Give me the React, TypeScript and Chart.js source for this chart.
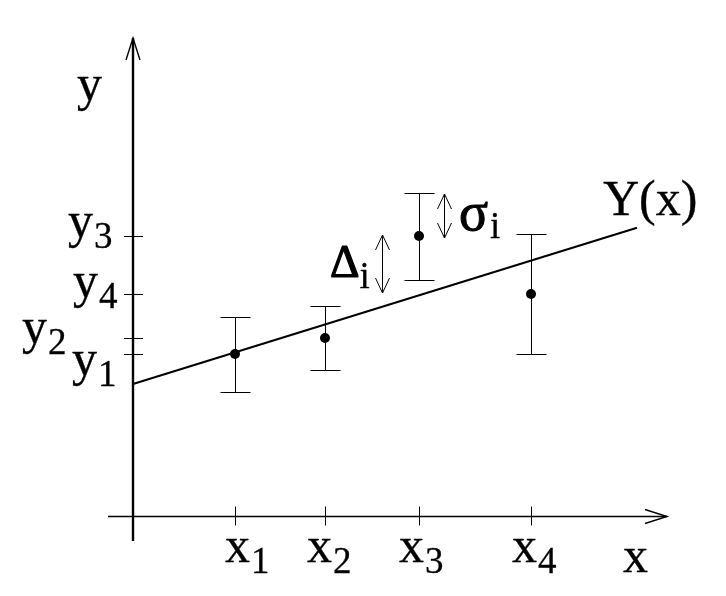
import React, { useEffect, useRef } from "react";
import { Chart, registerables } from "chart.js";

Chart.register(...registerables);

// ---- data (diagram units: origin at the axes crossing) ----
const subscripts = ["1", "2", "3", "4"];
const xValues = [1.02, 1.92, 2.86, 3.98];
const yValues = [1.62, 1.78, 2.8, 2.22];
const sigmaValues = [0.375, 0.325, 0.435, 0.595];
const fitIntercept = 1.32;
const fitSlope = 0.31;
const fitRange = [0, 5.04];
const xAxisRange = [-0.25, 5.34];
const yAxisRange = [-0.25, 4.78];
const deltaArrow = [2.49, 2.81, 2.23]; // x, from y, to y
const sigmaArrow = [3.11, 3.22, 2.78]; // x, from y, to y
const viewX = [-1.33, 5.93];
const viewY = [-0.8, 5.16];

// ---- layout of the text labels (pixel offsets) ----
const yLabelOffsets = [
  [-61, 21],
  [-111, 5],
  [-65, 1],
  [-60, 3],
];
const xLabelOffsets = [-10, -18, -20, -19];

const FONT = '"Liberation Serif", "Times New Roman", serif';
const MAIN = 50;
const SUB = 37;

function put(ctx: CanvasRenderingContext2D, t: string, x: number, y: number, stroke: number) {
  ctx.fillText(t, x, y);
  if (stroke > 0) {
    ctx.lineWidth = stroke;
    ctx.strokeText(t, x, y);
  }
}

function drawSub(ctx: CanvasRenderingContext2D, main: string, sub: string, x: number, base: number, mainSize = MAIN, subSize = SUB, drop = 11, gap = 1, stroke = 0.35) {
  ctx.font = `${mainSize}px ${FONT}`;
  put(ctx, main, x, base, stroke);
  const w = ctx.measureText(main).width;
  if (sub) {
    ctx.font = `${subSize}px ${FONT}`;
    put(ctx, sub, x + w + gap, base + drop, 0.3);
  }
}

function openArrowHead(ctx: CanvasRenderingContext2D, tx: number, ty: number, dx: number, dy: number, len: number, half: number) {
  const bx = tx - dx * len;
  const by = ty - dy * len;
  const nx = -dy;
  const ny = dx;
  ctx.beginPath();
  ctx.moveTo(bx + nx * half, by + ny * half);
  ctx.lineTo(tx, ty);
  ctx.lineTo(bx - nx * half, by - ny * half);
  ctx.stroke();
}

const diagramPlugin = {
  id: "diagram",
  beforeDatasetsDraw(chart: any) {
    const { ctx, scales } = chart;
    const px = (v: number) => scales.x.getPixelForValue(v);
    const py = (v: number) => scales.y.getPixelForValue(v);
    const cx = (v: number) => Math.round(px(v)) + 0.5;
    const cy = (v: number) => Math.round(py(v)) + 0.5;
    ctx.save();
    ctx.strokeStyle = "#000";
    ctx.lineCap = "butt";

    // y axis
    const ax = Math.round(px(0));
    ctx.lineWidth = 2.4;
    ctx.beginPath();
    ctx.moveTo(ax, py(yAxisRange[0]));
    ctx.lineTo(ax, py(yAxisRange[1]));
    ctx.stroke();
    ctx.lineWidth = 1.4;
    openArrowHead(ctx, ax, py(yAxisRange[1]), 0, -1, 22, 7);

    // x axis
    const ay = Math.round(py(0)) + 0.5;
    ctx.lineWidth = 1.6;
    ctx.beginPath();
    ctx.moveTo(px(xAxisRange[0]), ay);
    ctx.lineTo(px(xAxisRange[1]), ay);
    ctx.stroke();
    ctx.lineWidth = 1.4;
    openArrowHead(ctx, px(xAxisRange[1]), ay, 1, 0, 22, 7);

    // ticks
    ctx.lineWidth = 1;
    xValues.forEach((v) => {
      ctx.beginPath();
      ctx.moveTo(cx(v), ay - 10);
      ctx.lineTo(cx(v), ay + 9);
      ctx.stroke();
    });
    yValues.forEach((v) => {
      ctx.beginPath();
      ctx.moveTo(ax - 9, cy(v));
      ctx.lineTo(ax + 10, cy(v));
      ctx.stroke();
    });

    // error bars
    xValues.forEach((xv, i) => {
      const x0 = cx(xv);
      const top = cy(yValues[i] + sigmaValues[i]);
      const bot = cy(yValues[i] - sigmaValues[i]);
      ctx.beginPath();
      ctx.moveTo(x0, top);
      ctx.lineTo(x0, bot);
      ctx.moveTo(x0 - 15, top);
      ctx.lineTo(x0 + 15, top);
      ctx.moveTo(x0 - 15, bot);
      ctx.lineTo(x0 + 15, bot);
      ctx.stroke();
    });

    // double arrows (Delta and sigma)
    [deltaArrow, sigmaArrow].forEach((a) => {
      const x0 = cx(a[0]);
      const t = py(a[1]);
      const b = py(a[2]);
      ctx.beginPath();
      ctx.moveTo(x0, t);
      ctx.lineTo(x0, b);
      ctx.stroke();
      openArrowHead(ctx, x0, t, 0, -1, 15, 7);
      openArrowHead(ctx, x0, b, 0, 1, 15, 7);
    });
    ctx.restore();
  },
  afterDraw(chart: any) {
    const { ctx, scales } = chart;
    const px = (v: number) => scales.x.getPixelForValue(v);
    const py = (v: number) => scales.y.getPixelForValue(v);
    ctx.save();
    ctx.fillStyle = "#000";
    ctx.strokeStyle = "#000";
    ctx.lineJoin = "round";
    ctx.textBaseline = "alphabetic";
    ctx.textAlign = "left";
    const ax = px(0);
    const ay = py(0);

    // tick labels
    yValues.forEach((v, i) => {
      drawSub(ctx, "y", subscripts[i], ax + yLabelOffsets[i][0], py(v) + yLabelOffsets[i][1]);
    });
    xValues.forEach((v, i) => {
      drawSub(ctx, "x", subscripts[i], px(v) + xLabelOffsets[i], ay + 46);
    });

    // axis titles
    ctx.font = `${MAIN}px ${FONT}`;
    put(ctx, "y", ax - 56, py(yAxisRange[1]) + 62, 0.35);
    ctx.font = `${MAIN}px ${FONT}`;
    put(ctx, "x", px(xAxisRange[1]) - 44, ay + 56, 0.35);

    // Y(x)
    const endX = px(fitRange[1]);
    const endY = py(fitIntercept + fitSlope * fitRange[1]);
    ctx.font = `${MAIN}px ${FONT}`;
    put(ctx, "Y(x)", endX - 34, endY - 13, 0.35);

    // Delta_i and sigma_i
    drawSub(ctx, "\u0394", "i", px(deltaArrow[0]) - 52, py(deltaArrow[1]) + 42, 46, 37, 11, 0, 1.2);
    drawSub(ctx, "\u03C3", "i", px(sigmaArrow[0]) + 15, py(sigmaArrow[1]) + 36, 54, 37, 8, 2, 1.0);
    ctx.restore();
  },
};

export default function App() {
  const ref = useRef<HTMLCanvasElement | null>(null);
  useEffect(() => {
    document.body.style.margin = "0";
    if (!ref.current) return;
    const fitData = fitRange.map((xv) => ({ x: xv, y: fitIntercept + fitSlope * xv }));
    const chart = new Chart(ref.current, {
      type: "scatter",
      data: {
        datasets: [
          {
            type: "line",
            data: fitData,
            borderColor: "#000",
            borderWidth: 2,
            pointRadius: 0,
            fill: false,
          } as any,
          {
            data: xValues.map((xv, i) => ({ x: xv, y: yValues[i] })),
            backgroundColor: "#000",
            borderColor: "#000",
            borderWidth: 0,
            pointRadius: 5,
          },
        ],
      },
      options: {
        animation: false,
        responsive: false,
        devicePixelRatio: 1,
        layout: { padding: 0, autoPadding: false } as any,
        plugins: { legend: { display: false }, title: { display: false }, tooltip: { enabled: false } },
        events: [],
        scales: {
          x: { type: "linear", min: viewX[0], max: viewX[1], display: false },
          y: { type: "linear", min: viewY[0], max: viewY[1], display: false },
        },
      },
      plugins: [diagramPlugin],
    });
    return () => chart.destroy();
  }, []);
  return (
    <div style={{ width: 726, height: 596, background: "#fff" }}>
      <canvas ref={ref} width={726} height={596} style={{ display: "block" }} />
    </div>
  );
}
